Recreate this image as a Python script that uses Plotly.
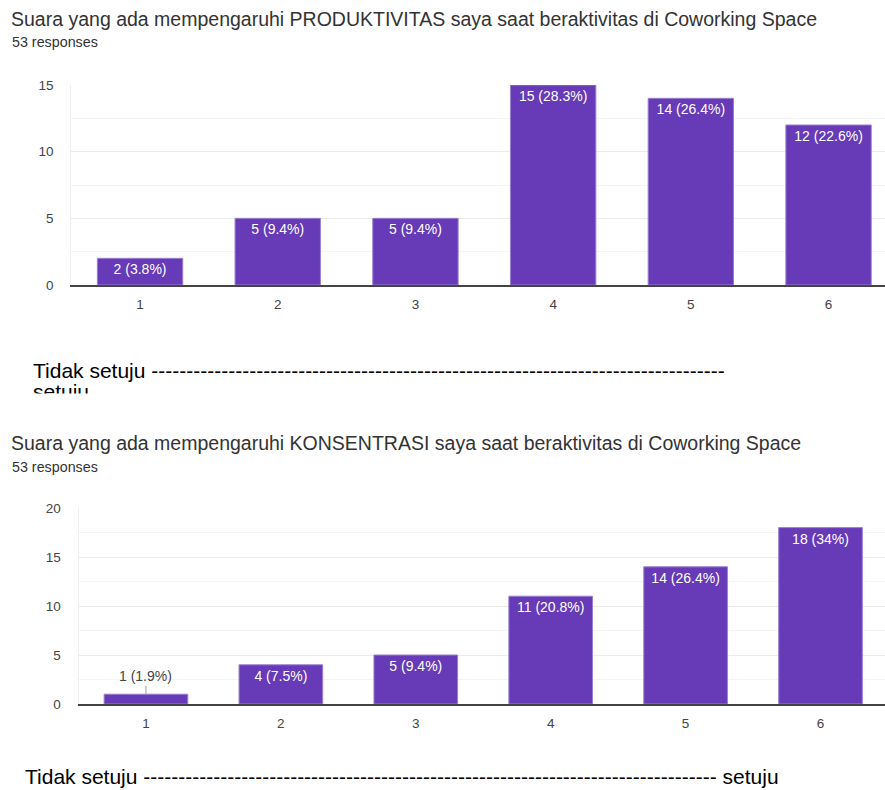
import plotly.graph_objects as go

W, H = 885, 790

# ---------------- data ----------------
categories = [1, 2, 3, 4, 5, 6]
produktivitas = [2, 5, 5, 15, 14, 12]
konsentrasi = [1, 4, 5, 11, 14, 18]
total_responses = 53
title_produktivitas = "Suara yang ada mempengaruhi PRODUKTIVITAS saya saat beraktivitas di Coworking Space"
title_konsentrasi = "Suara yang ada mempengaruhi KONSENTRASI saya saat beraktivitas di Coworking Space"
responses_text = "53 responses"
scale_left = "Tidak setuju"
scale_right = "setuju"
n_dashes = 82

# ---------------- helpers ----------------
def px_x(x):
    return x / W

def px_y(y):
    return 1 - y / H

def pct(v):
    s = f"{v / total_responses * 100:.1f}"
    if s.endswith(".0"):
        s = s[:-2]
    return f"{v} ({s}%)"

ARIAL = "Arial, Liberation Sans"
BAR = "#673ab7"
BAR_LINE = "#9a7fd1"
TICK_FONT = dict(family=ARIAL, size=13.5, color="#444444")
TITLE_FONT = dict(family=ARIAL, size=19.5, color="#333333")
SUB_FONT = dict(family=ARIAL, size=14.3, color="#333333")
SCALE_FONT = dict(family=ARIAL, size=21, color="#000000")

fig = go.Figure()

def add_bars(values, xa, ya):
    texts = [pct(v) if v >= 2 else "" for v in values]
    fig.add_trace(go.Bar(
        x=categories, y=values, xaxis=xa, yaxis=ya,
        width=0.62,
        marker=dict(color=BAR, line=dict(color=BAR_LINE, width=1)),
        text=texts, textposition="inside", insidetextanchor="end",
        textangle=0,
        textfont=dict(family=ARIAL, size=14, color="white"),
        hoverinfo="skip",
    ))

add_bars(produktivitas, "x", "y")
add_bars(konsentrasi, "x2", "y2")

def xaxis_cfg(left_px, right_val):
    return dict(
        domain=[px_x(left_px), 1.0], range=[0.5, right_val],
        tickvals=categories, showgrid=False, zeroline=False,
        showline=True, linecolor="#444444", linewidth=1.5,
        ticks="", tickfont=TICK_FONT, ticklabelstandoff=6, fixedrange=True,
        automargin=False,
    )

def yaxis_cfg(top_px, bottom_px, ymax, anchor):
    return dict(
        domain=[px_y(bottom_px), px_y(top_px)], range=[0, ymax], dtick=5,
        showgrid=True, gridcolor="#ebebeb", gridwidth=1,
        minor=dict(dtick=2.5, showgrid=True, gridcolor="#f4f4f4", gridwidth=1),
        zeroline=False, showline=True, linecolor="#eeeeee", linewidth=1,
        ticks="", tickfont=TICK_FONT, ticklabelstandoff=14, anchor=anchor,
        fixedrange=True, automargin=False,
    )

annotations = []

def text_ann(text, x_px, y_px, font, xanchor="left", yanchor="middle"):
    annotations.append(dict(
        text=text, x=px_x(x_px), y=px_y(y_px), xref="paper", yref="paper",
        xanchor=xanchor, yanchor=yanchor, showarrow=False, font=font,
    ))

# titles
text_ann(title_produktivitas, 9, 19, TITLE_FONT)
text_ann(responses_text, 10, 42, SUB_FONT)
text_ann(title_konsentrasi, 9, 443, TITLE_FONT)
text_ann(responses_text, 10, 467, SUB_FONT)

# scale captions
dashes = "-" * n_dashes
text_ann(f"{scale_left} {dashes}", 31, 370, SCALE_FONT)
text_ann(scale_right, 31, 391, SCALE_FONT)
# white box hiding the cut-off lower part of the wrapped word
annotations.append(dict(
    text=" ", x=px_x(20), y=px_y(393), xref="paper", yref="paper",
    xanchor="left", yanchor="top", showarrow=False,
    bgcolor="white", width=160, height=34, borderpad=0,
))
text_ann(f"{scale_left} {dashes} {scale_right}", 23, 776, SCALE_FONT)

# outside label for small bars
for c, v in zip(categories, konsentrasi):
    if v < 2:
        annotations.append(dict(
            text=pct(v), x=c, y=v, xref="x2", yref="y2",
            showarrow=True, arrowhead=0, arrowwidth=1, arrowcolor="#9e9e9e",
            ax=0, ay=-18,
            font=dict(family=ARIAL, size=14, color="#444444"),
        ))

fig.update_layout(
    width=W, height=H,
    margin=dict(l=0, r=0, t=0, b=0, pad=0, autoexpand=False),
    paper_bgcolor="white", plot_bgcolor="white", showlegend=False,
    xaxis=xaxis_cfg(71.2, 6.41),
    yaxis=yaxis_cfg(85, 285, 15, "x"),
    xaxis2=xaxis_cfg(78.5, 6.478) | dict(anchor="y2"),
    yaxis2=yaxis_cfg(508, 704, 20, "x2"),
    annotations=annotations,
)

fig.write_html("out.html")
